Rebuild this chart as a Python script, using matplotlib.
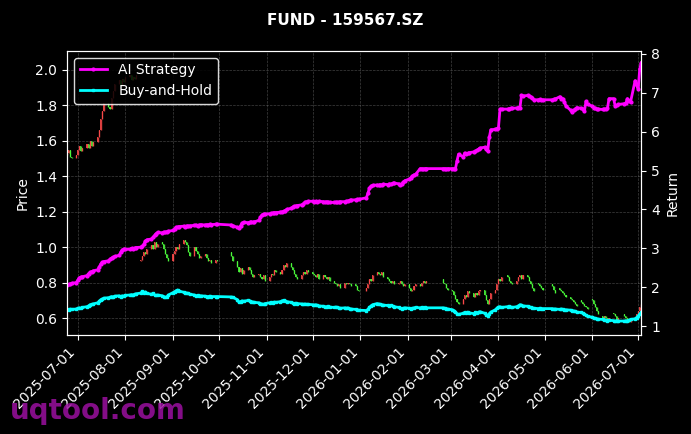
import numpy as np
import pandas as pd
import matplotlib
matplotlib.use("Agg")
import matplotlib.pyplot as plt
import matplotlib.dates as mdates

# trading calendar (SZSE): business days minus exchange holidays
START, END = "2025-06-24", "2026-07-03"
HOLIDAYS = ["2025-10-01", "2025-10-02", "2025-10-03", "2025-10-06", "2025-10-07", "2025-10-08",
            "2026-01-01", "2026-01-02",
            "2026-02-16", "2026-02-17", "2026-02-18", "2026-02-19", "2026-02-20", "2026-02-23",
            "2026-04-06", "2026-05-01", "2026-05-04", "2026-05-05", "2026-06-19"]

# daily candles, one row per trading week
price_open = [
    1.52, 1.53, 1.55, 1.51,
    1.50, 1.52, 1.55, 1.57, 1.54,
    1.56, 1.58, 1.56, 1.60, 1.57,
    1.59, 1.62, 1.66, 1.72, 1.77,
    1.81, 1.79, 1.78, 1.84, 1.88,
    1.92, 1.94, 1.91, 1.95, 1.93,
    1.96, 1.97, 1.94, 1.96, 1.95,
    0.92, 0.93, 0.95, 0.97, 0.96,
    0.99, 1.01, 0.99, 1.03, 1.00,
    1.03, 1.02, 0.99, 0.96, 0.94,
    0.92, 0.96, 0.98, 1.00, 0.99,
    1.02, 1.04, 1.03, 1.01, 0.97,
    0.95, 1.00, 0.98, 0.96, 0.94,
    0.95, 0.96, 0.94, 0.92, 0.93,
    0.91, 0.93,
    0.97, 0.95,
    0.92, 0.89, 0.86, 0.88, 0.85,
    0.87, 0.89, 0.87, 0.85, 0.83,
    0.84, 0.85, 0.83, 0.82, 0.84,
    0.81, 0.83, 0.85, 0.84, 0.87,
    0.86, 0.85, 0.87, 0.90, 0.89,
    0.91, 0.89, 0.87, 0.85, 0.83,
    0.82, 0.84, 0.86, 0.85, 0.87,
    0.86, 0.85, 0.84, 0.83, 0.85,
    0.82, 0.84, 0.83, 0.82, 0.83,
    0.81, 0.80, 0.79, 0.78, 0.79,
    0.77, 0.80, 0.79, 0.80, 0.79,
    0.79, 0.78, 0.76,
    0.75, 0.77, 0.79, 0.82, 0.81,
    0.84, 0.86, 0.85, 0.84, 0.86,
    0.83, 0.82, 0.81, 0.80, 0.81,
    0.79, 0.80, 0.81, 0.79, 0.78,
    0.79, 0.77, 0.75, 0.76, 0.78,
    0.79, 0.78, 0.80, 0.81, 0.80,
    0.82, 0.80, 0.79, 0.77,
    0.76, 0.75, 0.73, 0.71, 0.69,
    0.68, 0.71, 0.73, 0.72, 0.75,
    0.74, 0.72, 0.74, 0.73, 0.75,
    0.76, 0.73, 0.70, 0.68, 0.71,
    0.74, 0.76, 0.79, 0.82, 0.81,
    0.84, 0.83, 0.81, 0.80,
    0.79, 0.81, 0.83, 0.84, 0.82,
    0.84, 0.83, 0.81, 0.79, 0.77,
    0.80, 0.79, 0.78, 0.77,
    0.79, 0.78, 0.76,
    0.77, 0.76, 0.75, 0.74, 0.73,
    0.72, 0.71, 0.70, 0.69, 0.68,
    0.70, 0.69, 0.68, 0.67, 0.66,
    0.71, 0.70, 0.68, 0.66, 0.64,
    0.61, 0.60, 0.61, 0.60, 0.59,
    0.63, 0.62, 0.61, 0.59,
    0.62, 0.61, 0.60, 0.59, 0.58,
    0.59, 0.60, 0.62, 0.64, 0.66,
]
price_close = [
    1.53, 1.55, 1.51, 1.50,
    1.52, 1.55, 1.57, 1.54, 1.56,
    1.58, 1.56, 1.60, 1.57, 1.59,
    1.62, 1.66, 1.72, 1.77, 1.81,
    1.79, 1.78, 1.84, 1.88, 1.92,
    1.94, 1.91, 1.95, 1.93, 1.96,
    1.97, 1.94, 1.96, 1.95, 1.97,
    0.93, 0.95, 0.97, 0.96, 0.99,
    1.01, 0.99, 1.03, 1.00, 1.02,
    1.02, 0.99, 0.96, 0.94, 0.92,
    0.96, 0.98, 1.00, 0.99, 1.02,
    1.04, 1.03, 1.01, 0.97, 0.95,
    1.00, 0.98, 0.96, 0.94, 0.95,
    0.96, 0.94, 0.92, 0.93, 0.91,
    0.93, 0.92,
    0.95, 0.92,
    0.89, 0.86, 0.88, 0.85, 0.87,
    0.89, 0.87, 0.85, 0.83, 0.84,
    0.85, 0.83, 0.82, 0.84, 0.81,
    0.83, 0.85, 0.84, 0.87, 0.86,
    0.85, 0.87, 0.90, 0.89, 0.91,
    0.89, 0.87, 0.85, 0.83, 0.82,
    0.84, 0.86, 0.85, 0.87, 0.86,
    0.85, 0.84, 0.83, 0.85, 0.82,
    0.84, 0.83, 0.82, 0.83, 0.81,
    0.80, 0.79, 0.78, 0.79, 0.77,
    0.80, 0.79, 0.80, 0.79, 0.78,
    0.78, 0.76, 0.75,
    0.77, 0.79, 0.82, 0.81, 0.84,
    0.86, 0.85, 0.84, 0.86, 0.83,
    0.82, 0.81, 0.80, 0.81, 0.79,
    0.80, 0.81, 0.79, 0.78, 0.79,
    0.77, 0.75, 0.76, 0.78, 0.79,
    0.78, 0.80, 0.81, 0.80, 0.81,
    0.80, 0.79, 0.77, 0.76,
    0.75, 0.73, 0.71, 0.69, 0.68,
    0.71, 0.73, 0.72, 0.75, 0.74,
    0.72, 0.74, 0.73, 0.75, 0.76,
    0.73, 0.70, 0.68, 0.71, 0.74,
    0.76, 0.79, 0.82, 0.81, 0.83,
    0.83, 0.81, 0.80, 0.79,
    0.81, 0.83, 0.84, 0.82, 0.84,
    0.83, 0.81, 0.79, 0.77, 0.75,
    0.79, 0.78, 0.77, 0.76,
    0.78, 0.76, 0.74,
    0.76, 0.75, 0.74, 0.73, 0.72,
    0.71, 0.70, 0.69, 0.68, 0.67,
    0.69, 0.68, 0.67, 0.66, 0.65,
    0.70, 0.68, 0.66, 0.64, 0.62,
    0.60, 0.61, 0.60, 0.59, 0.60,
    0.62, 0.61, 0.59, 0.60,
    0.61, 0.60, 0.59, 0.58, 0.59,
    0.60, 0.62, 0.64, 0.66, 0.68,
]

# cumulative return (x) of the two strategies
ai_return = [
    2.05, 2.07, 2.08, 2.10,
    2.12, 2.18, 2.24, 2.26, 2.27,
    2.30, 2.35, 2.38, 2.40, 2.42,
    2.45, 2.52, 2.60, 2.64, 2.66,
    2.68, 2.72, 2.75, 2.77, 2.79,
    2.82, 2.90, 2.96, 2.98, 2.97,
    2.98, 3.00, 2.99, 3.01, 3.02,
    3.03, 3.05, 3.10, 3.18, 3.22,
    3.24, 3.28, 3.33, 3.38, 3.41,
    3.40, 3.42, 3.41, 3.43, 3.44,
    3.46, 3.50, 3.54, 3.55, 3.56,
    3.57, 3.56, 3.58, 3.57, 3.58,
    3.59, 3.60, 3.58, 3.60, 3.61,
    3.60, 3.61, 3.60, 3.62, 3.61,
    3.62, 3.62,
    3.60, 3.58,
    3.54, 3.52, 3.58, 3.65, 3.67,
    3.66, 3.67, 3.68, 3.67, 3.68,
    3.72, 3.80, 3.86, 3.88, 3.88,
    3.89, 3.90, 3.91, 3.92, 3.92,
    3.93, 3.94, 3.95, 3.97, 4.00,
    4.03, 4.06, 4.08, 4.09, 4.10,
    4.12, 4.15, 4.19, 4.20, 4.21,
    4.21, 4.20, 4.21, 4.20, 4.21,
    4.20, 4.19, 4.20, 4.19, 4.18,
    4.18, 4.19, 4.18, 4.19, 4.20,
    4.20, 4.21, 4.22, 4.23, 4.24,
    4.25, 4.26, 4.26,
    4.30, 4.42, 4.55, 4.60, 4.62,
    4.63, 4.62, 4.64, 4.63, 4.65,
    4.64, 4.66, 4.65, 4.67, 4.68,
    4.66, 4.64, 4.66, 4.70, 4.74,
    4.78, 4.82, 4.86, 4.89, 4.90,
    5.05, 5.05, 5.04, 5.05, 5.05,
    5.05, 5.05, 5.04, 5.05,
    5.05, 5.05, 5.05, 5.25, 5.42,
    5.35, 5.45, 5.43, 5.44, 5.46,
    5.48, 5.50, 5.52, 5.55, 5.58,
    5.60, 5.55, 5.50, 5.85, 6.05,
    6.06, 6.08, 6.10, 6.58, 6.58,
    6.58, 6.59, 6.60, 6.60,
    6.61, 6.62, 6.62, 6.93, 6.92,
    6.93, 6.92, 6.90, 6.86, 6.82,
    6.82, 6.83, 6.82, 6.82,
    6.82, 6.83, 6.84,
    6.90, 6.84, 6.85, 6.75, 6.66,
    6.55, 6.50, 6.55, 6.58, 6.62,
    6.60, 6.58, 6.53, 6.78, 6.70,
    6.66, 6.62, 6.60, 6.58, 6.58,
    6.57, 6.58, 6.58, 6.60, 6.85,
    6.85, 6.66, 6.68, 6.70,
    6.72, 6.74, 6.85, 6.80, 6.76,
    7.31, 7.20, 7.10, 7.61, 7.77,
]
bh_return = [
    1.43, 1.42, 1.44, 1.43,
    1.44, 1.46, 1.47, 1.46, 1.48,
    1.50, 1.52, 1.55, 1.56, 1.57,
    1.60, 1.64, 1.68, 1.70, 1.72,
    1.73, 1.74, 1.76, 1.75, 1.77,
    1.78, 1.76, 1.78, 1.77, 1.79,
    1.80, 1.81, 1.80, 1.82, 1.83,
    1.85, 1.89, 1.86, 1.88, 1.84,
    1.82, 1.84, 1.80, 1.79, 1.80,
    1.78, 1.76, 1.74, 1.75, 1.80,
    1.86, 1.88, 1.91, 1.93, 1.90,
    1.87, 1.86, 1.85, 1.84, 1.82,
    1.80, 1.78, 1.79, 1.77, 1.78,
    1.77, 1.76, 1.76, 1.77, 1.76,
    1.76, 1.76,
    1.75, 1.74,
    1.68, 1.61, 1.63, 1.65, 1.64,
    1.66, 1.65, 1.63, 1.62, 1.61,
    1.60, 1.58, 1.57, 1.56, 1.58,
    1.60, 1.61, 1.60, 1.62, 1.61,
    1.63, 1.65, 1.66, 1.65, 1.63,
    1.61, 1.59, 1.58, 1.59, 1.58,
    1.57, 1.56, 1.57, 1.56, 1.56,
    1.55, 1.54, 1.55, 1.53, 1.52,
    1.51, 1.50, 1.50, 1.51, 1.49,
    1.48, 1.49, 1.48, 1.47, 1.46,
    1.47, 1.46, 1.47, 1.45, 1.44,
    1.43, 1.42, 1.41,
    1.40, 1.43, 1.48, 1.52, 1.55,
    1.58, 1.57, 1.56, 1.55, 1.54,
    1.53, 1.52, 1.53, 1.52, 1.50,
    1.48, 1.46, 1.45, 1.46, 1.47,
    1.46, 1.45, 1.46, 1.47, 1.48,
    1.47, 1.48, 1.47, 1.48, 1.47,
    1.47, 1.46, 1.45, 1.44,
    1.42, 1.40, 1.36, 1.32, 1.30,
    1.33, 1.35, 1.34, 1.36, 1.34,
    1.32, 1.35, 1.34, 1.36, 1.37,
    1.33, 1.29, 1.27, 1.32, 1.36,
    1.42, 1.46, 1.49, 1.50, 1.48,
    1.50, 1.51, 1.49, 1.48,
    1.50, 1.52, 1.55, 1.54, 1.52,
    1.51, 1.50, 1.48, 1.47, 1.46,
    1.45, 1.46, 1.45, 1.45,
    1.45, 1.44, 1.44,
    1.43, 1.44, 1.43, 1.42, 1.42,
    1.41, 1.40, 1.39, 1.38, 1.36,
    1.35, 1.33, 1.31, 1.28, 1.25,
    1.23, 1.21, 1.20, 1.19, 1.18,
    1.17, 1.16, 1.15, 1.14, 1.15,
    1.14, 1.13, 1.14, 1.13,
    1.13, 1.14, 1.13, 1.15, 1.17,
    1.19, 1.22, 1.26, 1.31, 1.35,
]

dates = pd.bdate_range(START, END)
dates = dates[~dates.isin(pd.to_datetime(HOLIDAYS))]
assert len(dates) == len(price_close) == len(price_open) == len(ai_return) == len(bh_return)

o = np.array(price_open); c = np.array(price_close)
up = c >= o
UP_C, DN_C = "#ff4a4a", "#4cff3c"

fig = plt.figure(figsize=(6.91, 4.34), dpi=100, facecolor="black")
ax = fig.add_axes([0.097, 0.228, 0.831, 0.655], facecolor="black")
ax.bar(dates, c - o, bottom=o, width=0.7, color=np.where(up, UP_C, DN_C),
       alpha=0.85, linewidth=0)
ax.vlines(dates, np.minimum(o, c), np.maximum(o, c), colors=np.where(up, UP_C, DN_C),
          lw=1.0, alpha=0.85)
ax.set_ylim(0.504, 2.107)
ax.set_xlim(dates[0], dates[-1])
ax.set_ylabel("Price", color="white", fontsize=10)
ax.grid(True, color="gray", ls="--", lw=0.5, alpha=0.5)

ax2 = ax.twinx()
ax2.plot(dates, ai_return, color="#ff00ff", lw=2, marker="o", ms=2, label="AI Strategy")
ax2.plot(dates, bh_return, color="#00ffff", lw=2, marker="s", ms=2, label="Buy-and-Hold")
ax2.set_ylim(0.77, 8.08)
ax2.set_yticks(range(1, 9))
ax2.set_ylabel("Return", color="white", fontsize=10)

ax.xaxis.set_major_locator(mdates.MonthLocator())
ax.xaxis.set_major_formatter(mdates.DateFormatter("%Y-%m-%d"))
for lab in ax.get_xticklabels():
    lab.set_rotation(45); lab.set_ha("right")

for a in (ax, ax2):
    a.tick_params(colors="white", labelsize=10)
    for s in a.spines.values():
        s.set_color("white")

leg = ax2.legend(loc="upper left", facecolor="black", edgecolor="white",
                 framealpha=0.85, fontsize=10)
for t in leg.get_texts():
    t.set_color("white")

fig.suptitle("FUND - 159567.SZ", color="white", fontsize=11, fontweight="bold", y=0.97)
fig.text(0.015, 0.035, "uqtool.com", color="#9b10a0", alpha=0.85, fontsize=20,
         fontweight="bold")

fig.savefig("out.png", dpi=100, facecolor="black")
